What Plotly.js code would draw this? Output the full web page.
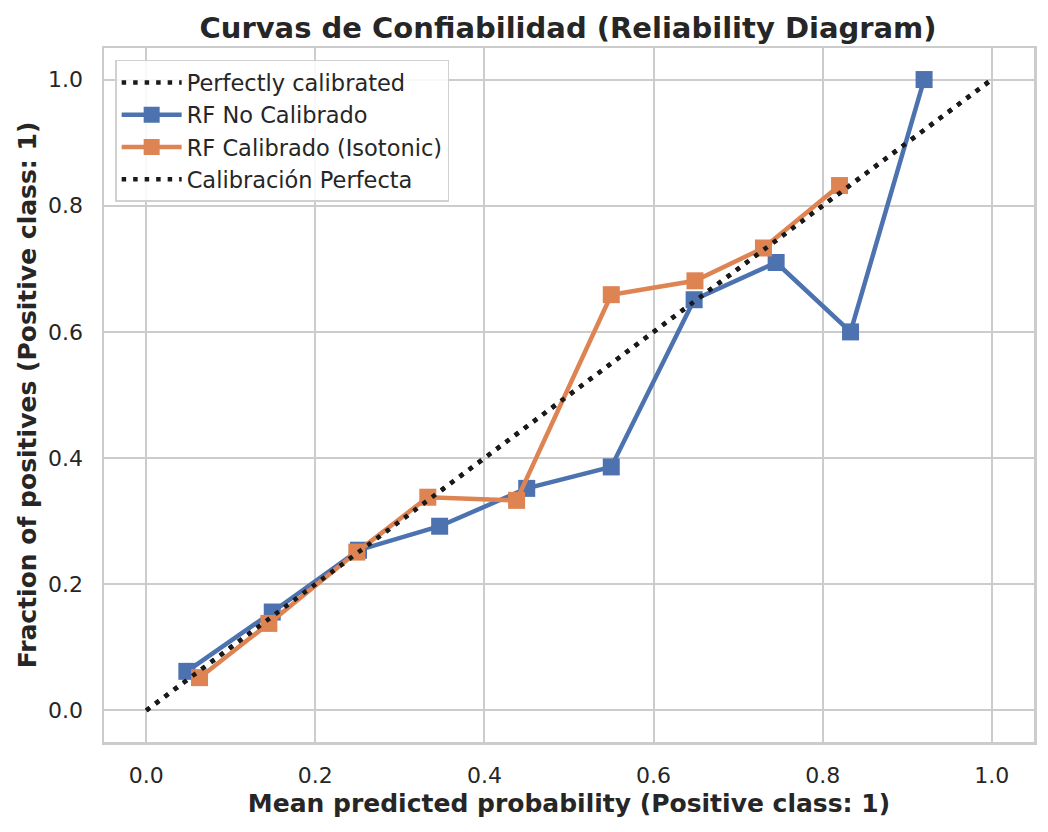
<!DOCTYPE html>
<html>
<head>
<meta charset="utf-8">
<script src="https://cdn.plot.ly/plotly-3.0.1.min.js"></script>
<style>html,body{margin:0;padding:0;background:#fff;}#chart{width:1048px;height:832px;}</style>
</head>
<body>
<div id="chart"></div>
<script>
const perfectX = [0, 1];
const perfectY = [0, 1];

const rfUncalX = [0.048, 0.149, 0.251, 0.347, 0.450, 0.550, 0.648, 0.745, 0.833, 0.920];
const rfUncalY = [0.062, 0.156, 0.254, 0.292, 0.352, 0.386, 0.651, 0.710, 0.600, 1.000];

const rfIsoX = [0.063, 0.145, 0.249, 0.333, 0.438, 0.550, 0.649, 0.730, 0.820];
const rfIsoY = [0.052, 0.138, 0.251, 0.338, 0.333, 0.659, 0.681, 0.733, 0.832];

const font = 'DejaVu Sans, sans-serif';
const dotLine = {color: '#1a1a1a', width: 4.5, dash: '4.5px,7px'};

const traces = [
  {x: perfectX, y: perfectY, mode: 'lines', name: 'Perfectly calibrated', line: dotLine},
  {x: rfUncalX, y: rfUncalY, mode: 'lines+markers', name: 'RF No Calibrado',
   line: {color: '#4c72b0', width: 4.5}, marker: {symbol: 'square', size: 17, color: '#4c72b0'}},
  {x: rfIsoX, y: rfIsoY, mode: 'lines+markers', name: 'RF Calibrado (Isotonic)',
   line: {color: '#dd8452', width: 4.5}, marker: {symbol: 'square', size: 17, color: '#dd8452'}},
  {x: perfectX, y: perfectY, mode: 'lines', name: 'Calibración Perfecta', line: dotLine}
];

const axisCommon = {
  range: [-0.05, 1.05],
  tickvals: [0, 0.2, 0.4, 0.6, 0.8, 1.0],
  ticktext: ['0.0', '0.2', '0.4', '0.6', '0.8', '1.0'],
  showgrid: true, gridcolor: '#cccccc', gridwidth: 2,
  zeroline: false,
  showline: true, mirror: true, linecolor: '#cccccc', linewidth: 2.5,
  ticks: '',
  tickfont: {family: font, size: 22, color: '#262626'}
};

const layout = {
  width: 1048, height: 832,
  margin: {l: 104, r: 14, t: 48, b: 90},
  paper_bgcolor: '#ffffff', plot_bgcolor: '#ffffff',
  title: {text: '<b>Curvas de Confiabilidad (Reliability Diagram)</b>',
          font: {family: font, size: 29, color: '#262626'},
          x: 0.542, xanchor: 'center', y: 0.967, yanchor: 'middle'},
  xaxis: Object.assign({}, axisCommon, {
    ticklabelstandoff: 12,
    title: {text: '<b>Mean predicted probability (Positive class: 1)</b>',
            font: {family: font, size: 25, color: '#262626'}, standoff: 8}
  }),
  yaxis: Object.assign({}, axisCommon, {
    ticklabelstandoff: 14,
    title: {text: '<b>Fraction of positives (Positive class: 1)</b>',
            font: {family: font, size: 25, color: '#262626'}, standoff: 5}
  }),
  legend: {
    x: 0.012, y: 0.983, xanchor: 'left', yanchor: 'top',
    bgcolor: 'rgba(255,255,255,0.85)', bordercolor: '#d0d0d0', borderwidth: 1.5,
    font: {family: font, size: 22.5, color: '#262626'},
    itemwidth: 60, tracegroupgap: 0
  },
  showlegend: true
};

Plotly.newPlot('chart', traces, layout, {displayModeBar: false, staticPlot: true});
</script>
</body>
</html>
